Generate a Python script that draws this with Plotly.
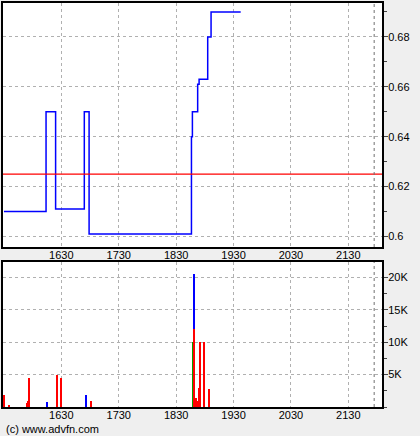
import plotly.graph_objects as go

# ---- data (times are minutes after midnight) ----
price_times = [930, 974, 984, 1014, 1019, 1126, 1127, 1132.5, 1134, 1143, 1146.5, 1177.5]
price_values = [0.61, 0.65, 0.611, 0.65, 0.601, 0.64, 0.65, 0.661, 0.663, 0.68, 0.69, 0.69]
prev_close = 0.625

sell_times = [930, 935, 954.5, 955.5, 956.6, 985.8, 990, 1021.4, 1129, 1131.1, 1132.2, 1134.2, 1135.3, 1139.5, 1144.7]
sell_volumes = [1850, 350, 550, 980, 4550, 5000, 4550, 870, 12000, 1400, 870, 2950, 10000, 10000, 2830]
buy_times = [975.4, 1016.1, 1129]
buy_volumes = [720, 1900, 8500]
unk_times = [1128]
unk_volumes = [10000]

tick_vals = [990, 1050, 1110, 1170, 1230, 1290]
tick_text = ["1630", "1730", "1830", "1930", "2030", "2130"]
price_ticks = [0.6, 0.62, 0.64, 0.66, 0.68]
price_labels = ["0.6", "0.62", "0.64", "0.66", "0.68"]
vol_ticks = [5000, 10000, 15000, 20000]
vol_labels = ["5K", "10K", "15K", "20K"]
session_end = 1317

W, H = 420, 436
FONT = "Liberation Sans Narrow, Liberation Sans, Arial, sans-serif"

fig = go.Figure()
fig.add_trace(go.Scatter(x=price_times, y=price_values, mode="lines", line_shape="hv",
                         line=dict(color="#0000ff", width=1.5), xaxis="x", yaxis="y", showlegend=False))
bw = 1.05
fig.add_trace(go.Bar(x=unk_times, y=unk_volumes, width=[bw]*len(unk_times), marker=dict(color="#00a000", line_width=0),
                     xaxis="x2", yaxis="y2", showlegend=False))
fig.add_trace(go.Bar(x=sell_times, y=sell_volumes, width=[bw]*len(sell_times), marker=dict(color="#ff0000", line_width=0),
                     xaxis="x2", yaxis="y2", showlegend=False))
fig.add_trace(go.Bar(x=buy_times, y=buy_volumes, width=[bw]*len(buy_times), marker=dict(color="#0000ff", line_width=0),
                     xaxis="x2", yaxis="y2", showlegend=False))

xr = [929, 1325.2]
xdom = [3/W, 382/W]
top_dom = [(H-247)/H, (H-3)/H]
bot_dom = [(H-407)/H, (H-262)/H]

axis_common = dict(showline=True, linecolor="black", linewidth=2, mirror=True,
                   showgrid=True, gridcolor="#b0b0b0", griddash="dot", gridwidth=1,
                   zeroline=False, tickfont=dict(family=FONT, size=11, color="black"))

fig.update_layout(
    width=W, height=H, margin=dict(l=0, r=0, t=0, b=0),
    paper_bgcolor="#efefef", plot_bgcolor="white", barmode="stack", bargap=0,
    xaxis=dict(domain=xdom, range=xr, anchor="y", tickvals=tick_vals, ticktext=tick_text,
               ticks="", ticklabelstandoff=-3, **axis_common),
    yaxis=dict(domain=top_dom, range=[0.5958, 0.6936], anchor="x", side="right",
               tickvals=price_ticks, ticktext=price_labels, ticks="outside", ticklen=4,
               ticklabelstandoff=-2,
               minor=dict(dtick=0.01, tick0=0.6, ticks="outside", ticklen=3, showgrid=False),
               **axis_common),
    xaxis2=dict(domain=xdom, range=xr, anchor="y2", tickvals=tick_vals, ticktext=tick_text,
                ticks="", ticklabelstandoff=-3, **axis_common),
    yaxis2=dict(domain=bot_dom, range=[0, 22400], anchor="x2", side="right",
                tickvals=vol_ticks, ticktext=vol_labels, ticks="outside", ticklen=4,
                ticklabelstandoff=-2,
                minor=dict(dtick=2500, tick0=0, ticks="outside", ticklen=3, showgrid=False),
                **axis_common),
    shapes=[
        dict(type="line", xref="x domain", yref="y", x0=0, x1=1, y0=prev_close, y1=prev_close,
             line=dict(color="#ff0000", width=1.3)),
        dict(type="line", xref="x", yref="y domain", x0=session_end, x1=session_end, y0=0, y1=1,
             line=dict(color="#707070", width=1, dash="dot")),
        dict(type="line", xref="x2", yref="y2 domain", x0=session_end, x1=session_end, y0=0, y1=1,
             line=dict(color="#707070", width=1, dash="dot")),
    ],
    annotations=[dict(text="(c) www.advfn.com", xref="paper", yref="paper", x=4/W, y=(H-429)/H,
                      xanchor="left", yanchor="middle", showarrow=False,
                      font=dict(family=FONT, size=11, color="black"))],
)

fig.write_html("out.html", config={"displayModeBar": False},
               post_script="document.body.style.margin='0';document.body.style.padding='0';document.body.style.overflow='hidden';")
